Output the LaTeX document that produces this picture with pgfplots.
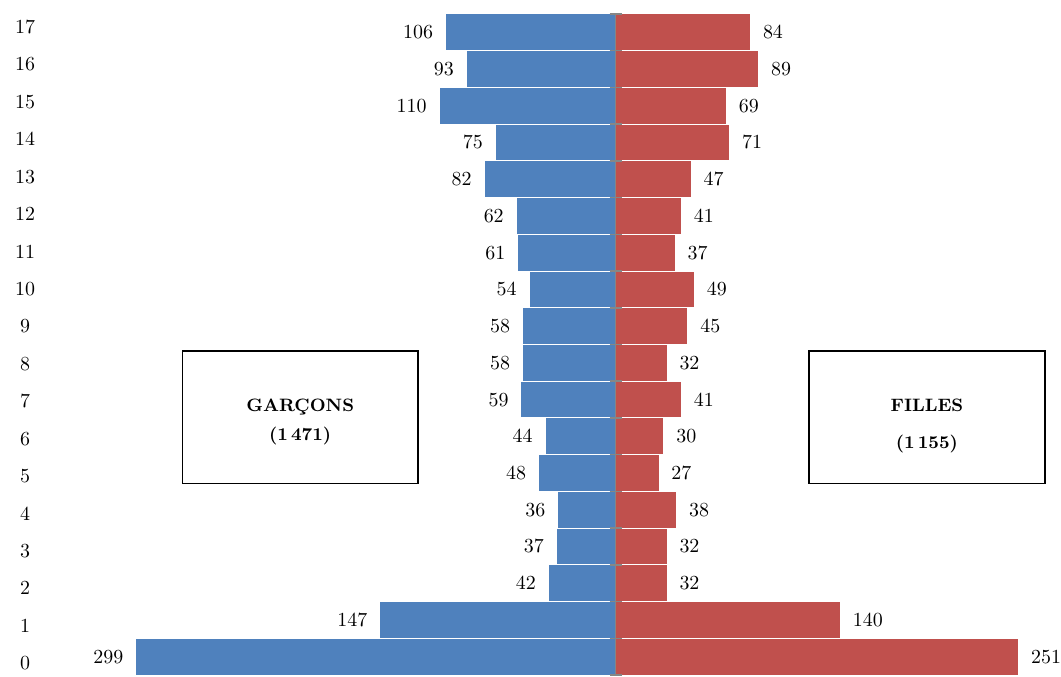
\documentclass[border=0pt]{standalone}
\usepackage{fontspec}
\usepackage{pgfplots}
\usepackage{pgfplotstable}
\pgfplotsset{compat=1.18}

\definecolor{boys}{HTML}{4F81BD}
\definecolor{girls}{HTML}{C0504D}
\definecolor{axisgray}{HTML}{868686}

\pgfplotstableread{
age boys girls
0 299 251
1 147 140
2 42 32
3 37 32
4 36 38
5 48 27
6 44 30
7 59 41
8 58 32
9 58 45
10 54 49
11 61 37
12 62 41
13 82 47
14 75 71
15 110 69
16 93 89
17 106 84
}\pyramid

\begin{document}
\begin{tikzpicture}
\begin{axis}[
	width=530.5pt, height=338.5pt, scale only axis,
	xmin=-383.4, xmax=275.6,
	ymin=-0.5, ymax=17.88,
	axis line style={draw=none},
	xtick=\empty,
	ytick={-0.176,0.843,1.862,2.881,3.900,4.919,5.938,6.957,7.976,8.995,10.014,11.033,12.052,13.071,14.090,15.109,16.128,17.147},
	yticklabels={0,1,2,3,4,5,6,7,8,9,10,11,12,13,14,15,16,17},
	major tick length=0,
	yticklabel style={anchor=center, xshift=12.5pt},
	clip=false,
	xbar, bar width=1, bar shift=0,
	point meta=explicit,
	nodes near coords,
	every node near coord/.append style={font=\normalsize, inner sep=0pt},
]
\addplot[fill=boys, draw=white, line width=0.5pt,
	every node near coord/.append style={anchor=east, xshift=-6pt}]
	table[x expr=-\thisrow{boys}, y=age, meta=boys] {\pyramid};
\addplot[fill=girls, draw=white, line width=0.5pt,
	every node near coord/.append style={anchor=west, xshift=6pt}]
	table[x=girls, y=age, meta=girls] {\pyramid};

% centre axis with ticks between the age groups
\draw[axisgray, line width=0.75pt] (axis cs:0,-0.5) -- (axis cs:0,17.5);
\pgfplotsinvokeforeach{-0.5,0.5,1.5,2.5,3.5,4.5,5.5,6.5,7.5,8.5,9.5,10.5,11.5,12.5,13.5,14.5,15.5,16.5,17.5}{
	\draw[axisgray, line width=0.75pt] ([xshift=-3pt]axis cs:0,#1) -- ([xshift=3pt]axis cs:0,#1);
}

% boxes
\draw[black, line width=0.75pt] (axis cs:-269.8,4.71) rectangle (axis cs:-123.2,8.32);
\node[align=center, font=\fontsize{9}{14.5}\selectfont\bfseries] at (axis cs:-196.5,6.38) {GARÇONS\\(1\,471)};
\draw[black, line width=0.75pt] (axis cs:120.3,4.71) rectangle (axis cs:267.5,8.32);
\node[align=center, font=\fontsize{9}{18.5}\selectfont\bfseries] at (axis cs:193.9,6.27) {FILLES\\(1\,155)};
\end{axis}
\end{tikzpicture}
\end{document}
